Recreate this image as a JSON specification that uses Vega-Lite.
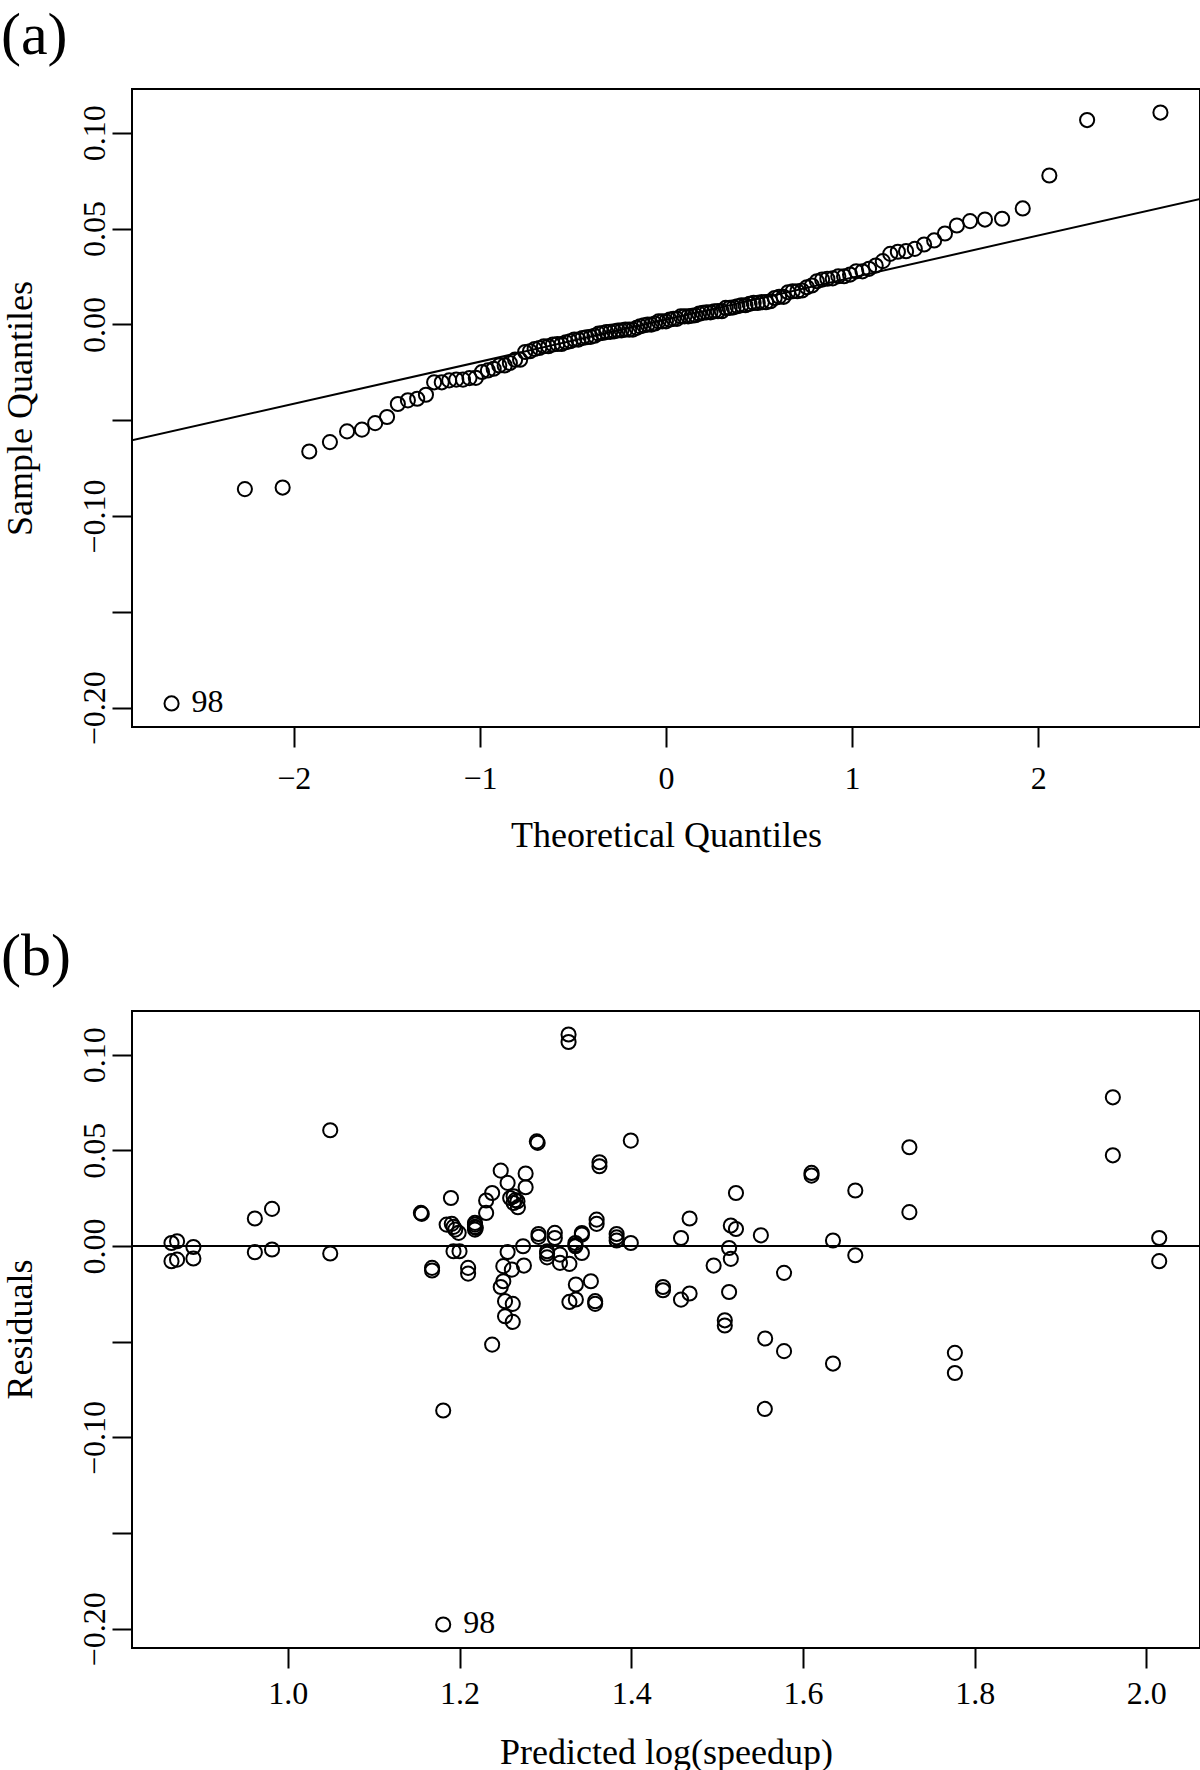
{
  "$schema": "https://vega.github.io/schema/vega-lite/v6.json",
  "background": "white",
  "padding": {"left": 0, "top": 5, "right": 0, "bottom": 0},
  "config": {
    "font": "Liberation Serif",
    "view": {"stroke": "black", "strokeWidth": 2},
    "axis": {"domain": false, "grid": false, "ticks": true, "tickColor": "black", "tickWidth": 2, "tickSize": 20, "labelFont": "Liberation Serif", "labelFontSize": 32, "labelColor": "black", "titleFont": "Liberation Serif", "titleFontSize": 36, "titleFontWeight": "normal", "titleColor": "black", "labelFlush": false, "labelOverlap": false},
    "title": {"font": "Liberation Serif", "fontSize": 60, "fontWeight": "normal", "color": "black", "anchor": "start", "frame": "group"}
  },
  "datasets": {
    "qq": [
      {"q": -2.657, "s": -0.1977, "label": "98"},
      {"q": -2.263, "s": -0.0859}, {"q": -2.060, "s": -0.0851}, {"q": -1.917, "s": -0.0663}, {"q": -1.806, "s": -0.0614},
      {"q": -1.714, "s": -0.0558}, {"q": -1.634, "s": -0.0549}, {"q": -1.563, "s": -0.0515}, {"q": -1.499, "s": -0.0483},
      {"q": -1.441, "s": -0.0415}, {"q": -1.387, "s": -0.0396}, {"q": -1.337, "s": -0.0388}, {"q": -1.290, "s": -0.0367},
      {"q": -1.246, "s": -0.0302}, {"q": -1.205, "s": -0.0302}, {"q": -1.165, "s": -0.0292}, {"q": -1.127, "s": -0.0288},
      {"q": -1.091, "s": -0.0288}, {"q": -1.056, "s": -0.0280}, {"q": -1.022, "s": -0.0279}, {"q": -0.989, "s": -0.0248},
      {"q": -0.957, "s": -0.0240}, {"q": -0.926, "s": -0.0231}, {"q": -0.896, "s": -0.0214}, {"q": -0.867, "s": -0.0214},
      {"q": -0.839, "s": -0.0201}, {"q": -0.811, "s": -0.0184}, {"q": -0.784, "s": -0.0184}, {"q": -0.757, "s": -0.0144},
      {"q": -0.731, "s": -0.0140}, {"q": -0.706, "s": -0.0128}, {"q": -0.681, "s": -0.0123}, {"q": -0.656, "s": -0.0114},
      {"q": -0.632, "s": -0.0114}, {"q": -0.608, "s": -0.0105}, {"q": -0.584, "s": -0.0102}, {"q": -0.561, "s": -0.0102},
      {"q": -0.538, "s": -0.0093}, {"q": -0.515, "s": -0.0088}, {"q": -0.493, "s": -0.0079}, {"q": -0.471, "s": -0.0079},
      {"q": -0.449, "s": -0.0071}, {"q": -0.427, "s": -0.0067}, {"q": -0.405, "s": -0.0065}, {"q": -0.384, "s": -0.0059},
      {"q": -0.363, "s": -0.0048}, {"q": -0.342, "s": -0.0045}, {"q": -0.321, "s": -0.0040}, {"q": -0.300, "s": -0.0039},
      {"q": -0.279, "s": -0.0036}, {"q": -0.259, "s": -0.0032}, {"q": -0.239, "s": -0.0031}, {"q": -0.218, "s": -0.0027},
      {"q": -0.198, "s": -0.0027}, {"q": -0.178, "s": -0.0027}, {"q": -0.158, "s": -0.0018}, {"q": -0.139, "s": -0.0010},
      {"q": -0.119, "s": -0.0005}, {"q": -0.099, "s": -0.0001}, {"q": -0.079, "s": -0.0001}, {"q": -0.059, "s": 0.0005},
      {"q": -0.040, "s": 0.0016}, {"q": -0.020, "s": 0.0016}, {"q": 0.000, "s": 0.0016}, {"q": 0.020, "s": 0.0025},
      {"q": 0.040, "s": 0.0029}, {"q": 0.059, "s": 0.0029}, {"q": 0.079, "s": 0.0042}, {"q": 0.099, "s": 0.0042},
      {"q": 0.119, "s": 0.0042}, {"q": 0.139, "s": 0.0045}, {"q": 0.158, "s": 0.0048}, {"q": 0.178, "s": 0.0056},
      {"q": 0.198, "s": 0.0060}, {"q": 0.218, "s": 0.0063}, {"q": 0.239, "s": 0.0063}, {"q": 0.259, "s": 0.0068},
      {"q": 0.279, "s": 0.0069}, {"q": 0.300, "s": 0.0069}, {"q": 0.321, "s": 0.0086}, {"q": 0.342, "s": 0.0086},
      {"q": 0.363, "s": 0.0089}, {"q": 0.384, "s": 0.0095}, {"q": 0.405, "s": 0.0100}, {"q": 0.427, "s": 0.0100},
      {"q": 0.449, "s": 0.0107}, {"q": 0.471, "s": 0.0112}, {"q": 0.493, "s": 0.0112}, {"q": 0.515, "s": 0.0116},
      {"q": 0.538, "s": 0.0116}, {"q": 0.561, "s": 0.0121}, {"q": 0.584, "s": 0.0138}, {"q": 0.608, "s": 0.0144},
      {"q": 0.632, "s": 0.0144}, {"q": 0.656, "s": 0.0168}, {"q": 0.681, "s": 0.0173}, {"q": 0.706, "s": 0.0173},
      {"q": 0.731, "s": 0.0177}, {"q": 0.757, "s": 0.0194}, {"q": 0.784, "s": 0.0203}, {"q": 0.811, "s": 0.0225},
      {"q": 0.839, "s": 0.0234}, {"q": 0.867, "s": 0.0238}, {"q": 0.896, "s": 0.0240}, {"q": 0.926, "s": 0.0251},
      {"q": 0.957, "s": 0.0251}, {"q": 0.989, "s": 0.0260}, {"q": 1.022, "s": 0.0277}, {"q": 1.056, "s": 0.0277},
      {"q": 1.091, "s": 0.0290}, {"q": 1.127, "s": 0.0307}, {"q": 1.165, "s": 0.0330}, {"q": 1.205, "s": 0.0368},
      {"q": 1.246, "s": 0.0379}, {"q": 1.290, "s": 0.0382}, {"q": 1.337, "s": 0.0394}, {"q": 1.387, "s": 0.0417},
      {"q": 1.441, "s": 0.0438}, {"q": 1.499, "s": 0.0474}, {"q": 1.563, "s": 0.0516}, {"q": 1.634, "s": 0.0539},
      {"q": 1.714, "s": 0.0547}, {"q": 1.806, "s": 0.0551}, {"q": 1.917, "s": 0.0605}, {"q": 2.060, "s": 0.0777},
      {"q": 2.263, "s": 0.1066}, {"q": 2.657, "s": 0.1105}
    ],
    "qqline": [
      {"q": -3.0, "s": -0.0633},
      {"q": 3.0, "s": 0.0683}
    ],
    "res": [
      {"f": 0.8645, "r": 0.0016}, {"f": 0.871, "r": 0.0025}, {"f": 0.8645, "r": -0.0079}, {"f": 0.871, "r": -0.0071},
      {"f": 0.890, "r": -0.0005}, {"f": 0.890, "r": -0.0065}, {"f": 0.9616, "r": 0.0144}, {"f": 0.9616, "r": -0.0032},
      {"f": 0.9816, "r": 0.0194}, {"f": 0.9816, "r": -0.0018}, {"f": 1.0494, "r": 0.0605}, {"f": 1.0494, "r": -0.0039},
      {"f": 1.155, "r": 0.0173}, {"f": 1.156, "r": 0.0168}, {"f": 1.168, "r": -0.0114}, {"f": 1.168, "r": -0.0128},
      {"f": 1.181, "r": -0.0859}, {"f": 1.181, "r": -0.1977, "label": "98"}, {"f": 1.190, "r": 0.0251}, {"f": 1.185, "r": 0.0112},
      {"f": 1.191, "r": 0.0116}, {"f": 1.195, "r": 0.0086}, {"f": 1.199, "r": 0.0069}, {"f": 1.193, "r": -0.0027},
      {"f": 1.200, "r": -0.0027}, {"f": 1.210, "r": -0.0114}, {"f": 1.210, "r": -0.0144}, {"f": 1.218, "r": 0.0112},
      {"f": 1.218, "r": 0.0086}, {"f": 1.219, "r": 0.0095}, {"f": 1.218, "r": 0.0121}, {"f": 1.231, "r": 0.0173},
      {"f": 1.231, "r": 0.0238}, {"f": 1.238, "r": 0.0277}, {"f": 1.238, "r": -0.0515}, {"f": 1.248, "r": 0.0394},
      {"f": 1.256, "r": 0.0330}, {"f": 1.259, "r": 0.0251}, {"f": 1.263, "r": 0.0260}, {"f": 1.2675, "r": 0.0234},
      {"f": 1.268, "r": 0.0203}, {"f": 1.263, "r": 0.0225}, {"f": 1.277, "r": 0.0379}, {"f": 1.277, "r": 0.0307},
      {"f": 1.290, "r": 0.0547}, {"f": 1.291, "r": 0.0539}, {"f": 1.256, "r": -0.0031}, {"f": 1.251, "r": -0.0105},
      {"f": 1.261, "r": -0.0123}, {"f": 1.274, "r": -0.0001}, {"f": 1.275, "r": -0.0102}, {"f": 1.251, "r": -0.0184},
      {"f": 1.248, "r": -0.0214}, {"f": 1.253, "r": -0.0288}, {"f": 1.262, "r": -0.0302}, {"f": 1.253, "r": -0.0367},
      {"f": 1.262, "r": -0.0396}, {"f": 1.292, "r": 0.0063}, {"f": 1.292, "r": 0.0048}, {"f": 1.311, "r": 0.0069},
      {"f": 1.311, "r": 0.0042}, {"f": 1.302, "r": -0.0027}, {"f": 1.302, "r": -0.0059}, {"f": 1.317, "r": -0.0045},
      {"f": 1.317, "r": -0.0088}, {"f": 1.328, "r": -0.0093}, {"f": 1.327, "r": 0.1105}, {"f": 1.327, "r": 0.1066},
      {"f": 1.335, "r": 0.0016}, {"f": 1.335, "r": -0.0001}, {"f": 1.3425, "r": 0.0068}, {"f": 1.3425, "r": -0.0036},
      {"f": 1.3355, "r": -0.0201}, {"f": 1.328, "r": -0.0292}, {"f": 1.3355, "r": -0.0279}, {"f": 1.353, "r": -0.0184},
      {"f": 1.358, "r": -0.0288}, {"f": 1.358, "r": -0.0302}, {"f": 1.3597, "r": 0.0138}, {"f": 1.3597, "r": 0.0116},
      {"f": 1.363, "r": 0.0438}, {"f": 1.363, "r": 0.0417}, {"f": 1.383, "r": 0.0063}, {"f": 1.383, "r": 0.0029},
      {"f": 1.3995, "r": 0.0016}, {"f": 1.3995, "r": 0.0551}, {"f": 1.437, "r": -0.0214}, {"f": 1.437, "r": -0.0231},
      {"f": 1.458, "r": 0.0042}, {"f": 1.458, "r": -0.0280}, {"f": 1.468, "r": -0.0248}, {"f": 1.468, "r": 0.0144},
      {"f": 1.496, "r": -0.0102}, {"f": 1.514, "r": -0.0010}, {"f": 1.516, "r": -0.0067}, {"f": 1.516, "r": 0.0107},
      {"f": 1.522, "r": 0.0089}, {"f": 1.522, "r": 0.0277}, {"f": 1.514, "r": -0.0240}, {"f": 1.509, "r": -0.0388},
      {"f": 1.509, "r": -0.0415}, {"f": 1.551, "r": 0.0056}, {"f": 1.556, "r": -0.0483}, {"f": 1.5556, "r": -0.0851},
      {"f": 1.578, "r": -0.0140}, {"f": 1.578, "r": -0.0549}, {"f": 1.610, "r": 0.0382}, {"f": 1.610, "r": 0.0368},
      {"f": 1.635, "r": 0.0029}, {"f": 1.635, "r": -0.0614}, {"f": 1.661, "r": 0.0290}, {"f": 1.661, "r": -0.0048},
      {"f": 1.724, "r": 0.0516}, {"f": 1.724, "r": 0.0177}, {"f": 1.777, "r": -0.0558}, {"f": 1.777, "r": -0.0663},
      {"f": 1.961, "r": 0.0777}, {"f": 1.961, "r": 0.0474}, {"f": 2.015, "r": 0.0042}, {"f": 2.015, "r": -0.0079},
      {"f": 1.218, "r": 0.0100}, {"f": 1.193, "r": 0.0100}, {"f": 1.265, "r": 0.0240}, {"f": 1.302, "r": -0.0040},
      {"f": 1.335, "r": 0.0005}, {"f": 1.383, "r": 0.0045}, {"f": 1.3425, "r": 0.0060}
    ],
    "zero": [{"z": 0}]
  },
  "spacing": 284,
  "bounds": "flush",
  "vconcat": [
    {
      "width": 1068,
      "height": 638,
      "title": {"text": "(a)", "dx": -131, "baseline": "alphabetic", "offset": -25},
      "layer": [
        {
          "data": {"name": "qq"},
          "mark": {"type": "point", "shape": "circle", "filled": false, "stroke": "black", "strokeWidth": 2, "size": 200, "opacity": 1},
          "encoding": {
            "x": {"field": "q", "type": "quantitative", "scale": {"domain": [-2.8696, 2.8696], "nice": false, "zero": false},
              "axis": {"title": "Theoretical Quantiles", "values": [-2, -1, 0, 1, 2], "format": "d", "labelAngle": 0, "labelBaseline": "alphabetic", "labelPadding": 41, "titleY": 119, "titleBaseline": "alphabetic"}},
            "y": {"field": "s", "type": "quantitative", "scale": {"domain": [-0.21, 0.1228], "nice": false, "zero": false},
              "axis": {"title": "Sample Quantiles", "values": [-0.2, -0.15, -0.1, -0.05, 0, 0.05, 0.1], "format": ".2f",
                "labelExpr": "abs(datum.value + 0.05) < 1e-6 || abs(datum.value + 0.15) < 1e-6 ? '' : datum.label",
                "labelAngle": 270, "labelAlign": "center", "labelBaseline": "alphabetic", "labelPadding": 8,
                "titleAngle": 270, "titleX": -101, "titleY": 319, "titleAlign": "center", "titleBaseline": "alphabetic"}}
          }
        },
        {
          "data": {"name": "qqline"},
          "mark": {"type": "line", "color": "black", "strokeWidth": 2, "clip": true},
          "encoding": {
            "x": {"field": "q", "type": "quantitative"},
            "y": {"field": "s", "type": "quantitative"}
          }
        },
        {
          "data": {"name": "qq"},
          "transform": [{"filter": "isValid(datum.label)"}],
          "mark": {"type": "text", "align": "left", "baseline": "alphabetic", "dx": 20, "dy": 9, "fontSize": 32, "color": "black", "font": "Liberation Serif"},
          "encoding": {
            "x": {"field": "q", "type": "quantitative"},
            "y": {"field": "s", "type": "quantitative"},
            "text": {"field": "label"}
          }
        }
      ]
    },
    {
      "width": 1068,
      "height": 637,
      "title": {"text": "(b)", "dx": -131, "baseline": "alphabetic", "offset": -24},
      "layer": [
        {
          "data": {"name": "res"},
          "mark": {"type": "point", "shape": "circle", "filled": false, "stroke": "black", "strokeWidth": 2, "size": 200, "opacity": 1},
          "encoding": {
            "x": {"field": "f", "type": "quantitative", "scale": {"domain": [0.8185, 2.0625], "nice": false, "zero": false},
              "axis": {"title": "Predicted log(speedup)", "values": [1.0, 1.2, 1.4, 1.6, 1.8, 2.0], "format": ".1f", "labelAngle": 0, "labelBaseline": "alphabetic", "labelPadding": 35, "titleY": 115, "titleBaseline": "alphabetic"}},
            "y": {"field": "r", "type": "quantitative", "scale": {"domain": [-0.21, 0.1228], "nice": false, "zero": false},
              "axis": {"title": "Residuals", "values": [-0.2, -0.15, -0.1, -0.05, 0, 0.05, 0.1], "format": ".2f",
                "labelExpr": "abs(datum.value + 0.05) < 1e-6 || abs(datum.value + 0.15) < 1e-6 ? '' : datum.label",
                "labelAngle": 270, "labelAlign": "center", "labelBaseline": "alphabetic", "labelPadding": 8,
                "titleAngle": 270, "titleX": -101, "titleY": 318, "titleAlign": "center", "titleBaseline": "alphabetic"}}
          }
        },
        {
          "data": {"name": "zero"},
          "mark": {"type": "rule", "color": "black", "strokeWidth": 2},
          "encoding": {
            "y": {"field": "z", "type": "quantitative"}
          }
        },
        {
          "data": {"name": "res"},
          "transform": [{"filter": "isValid(datum.label)"}],
          "mark": {"type": "text", "align": "left", "baseline": "alphabetic", "dx": 20, "dy": 9, "fontSize": 32, "color": "black", "font": "Liberation Serif"},
          "encoding": {
            "x": {"field": "f", "type": "quantitative"},
            "y": {"field": "r", "type": "quantitative"},
            "text": {"field": "label"}
          }
        }
      ]
    }
  ]
}
